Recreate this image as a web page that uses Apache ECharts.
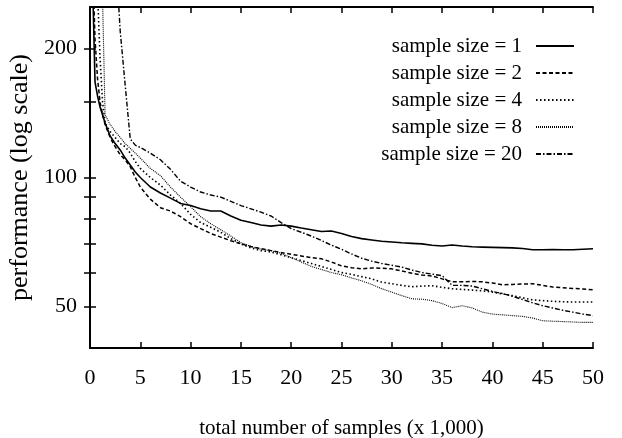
<!DOCTYPE html>
<html>
<head>
<meta charset="utf-8">
<script src="https://cdn.jsdelivr.net/npm/echarts@6/dist/echarts.min.js"></script>
<style>
  html, body { margin: 0; padding: 0; background: #fff; }
  #chart { width: 622px; height: 438px; }
</style>
</head>
<body>
<div id="chart"></div>
<script>
// total number of samples (thousands) at which each run was measured
const samplesK = [0.1, 0.3, 0.5, 0.75, 1, 1.25, 1.5, 2, 2.5, 3, 3.5, 4, 4.5, 5,
  6, 7, 8, 9, 10, 11, 12, 13, 14, 15, 16, 17, 18, 19, 20,
  21, 22, 23, 24, 25, 26, 27, 28, 29, 30, 31, 32, 33, 34, 35,
  36, 37, 38, 39, 40, 41, 42, 43, 44, 45, 46, 47, 48, 49, 50];

// performance per sample size
const size1 = [600, 260, 167, 155, 146, 140, 134, 125, 120, 116, 111, 107, 103, 100,
  95, 92, 89.5, 87, 86, 84.5, 83.5, 83.5, 81.3, 79.5, 78.5, 77.5, 77, 77.5, 77,
  76.2, 75.5, 74.8, 75, 74, 72.8, 72, 71.5, 71, 70.7, 70.4, 70.2, 70, 69.5, 69.2,
  69.6, 69.2, 68.9, 68.8, 68.7, 68.6, 68.5, 68.3, 67.8, 67.8, 67.9, 67.8, 67.8, 68, 68.2];
const size2 = [800, 300, 210, 170, 150, 140, 133, 124, 118, 113, 110, 106, 100, 95,
  89, 85, 83.5, 81, 78, 76, 74, 72.6, 71.2, 70, 69, 68.2, 67.5, 66.8, 66.2,
  65.6, 65, 64.6, 63.5, 62.2, 61.6, 61.2, 61.5, 61.4, 61.2, 60.5, 59.8, 59.2, 58.9, 58,
  57.1, 57.1, 57.2, 57.1, 56.7, 56.2, 56.3, 56.4, 56.5, 56, 55.5, 55.3, 55.1, 54.9, 54.7];
const size4 = [1000, 600, 400, 270, 190, 150, 134, 128, 124, 120, 118, 114, 109, 105,
  100, 96, 91, 87, 82, 78.5, 76.5, 74.5, 72, 70, 68.5, 67.5, 67, 66, 65,
  64, 63, 62, 61, 60, 59.4, 58.7, 58, 57, 56.5, 56, 55.6, 55.8, 55.9, 55.4,
  55, 54.8, 54.6, 54.4, 54, 53.5, 53, 52.4, 51.8, 51.6, 51.4, 51.3, 51.2, 51.2, 51.2];
const size8 = [1200, 900, 600, 400, 300, 260, 140, 133, 128, 124, 120, 117, 114, 111,
  105, 101, 95, 90, 85.5, 81, 78, 75.5, 73, 70.5, 69, 68, 67.5, 66.5, 65,
  63.5, 62, 61, 60, 59.3, 58.3, 57.4, 56.3, 55, 54, 53, 52.1, 52, 51.6, 50.8,
  49.7, 50.2, 49.6, 48.5, 48, 47.8, 47.6, 47.4, 47, 46.3, 46.2, 46.1, 46, 45.9, 45.9];
const size20 = [2000, 1500, 1200, 1000, 800, 650, 550, 450, 350, 220, 164, 123, 119, 117.5,
  114, 110, 104.5, 98, 95, 92.5, 91, 90, 88, 86, 84.5, 83, 81.3, 78.5, 76,
  74.5, 73, 71.3, 69.5, 68, 66.3, 64.8, 63.8, 63, 62.4, 61.8, 60.8, 60, 59.5, 59,
  56, 56, 55.8, 55, 54.2, 53.6, 52.8, 51.9, 51, 50.2, 49.6, 49, 48.5, 48, 47.6];

const xTicks = [0, 50, 5];            // min, max, step
const yLabelValues = [50, 100, 200];
const yTickValues = [50, 60, 70, 80, 90, 100, 150, 200];

const seriesNames = ['sample size = 1', 'sample size = 2', 'sample size = 4',
  'sample size = 8', 'sample size = 20'];
const seriesValues = [size1, size2, size4, size8, size20];
const dashes = ['solid', [4, 2.5], [1.5, 2.5], [1, 1], [5, 2, 1.5, 2]];
const widths = [1.6, 1.5, 1.6, 1.1, 1.4];

const FONT = '"Liberation Serif", "Times New Roman", serif';
const chart = echarts.init(document.getElementById('chart'), null, { renderer: 'canvas' });

const pairs = v => samplesK.map((x, i) => [x, v[i]]);

const tickStyle = { show: true, inside: true, length: 6, lineStyle: { color: '#000', width: 1.5 } };
const axisLineStyle = { show: true, lineStyle: { color: '#000', width: 2 } };

chart.setOption({
  animation: false,
  backgroundColor: '#fff',
  grid: { left: 90, right: 29, top: 7, bottom: 90, containLabel: false, outerBoundsMode: 'none' },
  legend: {
    orient: 'vertical',
    right: 42,
    top: 30,
    align: 'right',
    itemWidth: 38,
    itemHeight: 10,
    itemGap: 5,
    itemStyle: { opacity: 0 },
    textStyle: { fontFamily: FONT, fontSize: 21, color: '#000', lineHeight: 22, padding: [0, 9, 0, 0] },
    data: seriesNames
  },
  xAxis: [{
    type: 'value', min: xTicks[0], max: xTicks[1], interval: xTicks[2],
    name: 'total number of samples (x 1,000)', nameLocation: 'middle', nameGap: 70,
    nameTextStyle: { fontFamily: FONT, fontSize: 21, color: '#000' },
    axisLine: axisLineStyle, axisTick: tickStyle,
    axisLabel: { margin: 19, fontFamily: FONT, fontSize: 22, color: '#000' },
    splitLine: { show: false }
  }, {
    type: 'value', position: 'top', min: xTicks[0], max: xTicks[1], interval: xTicks[2],
    axisLine: axisLineStyle, axisTick: tickStyle, axisLabel: { show: false }, splitLine: { show: false }
  }],
  yAxis: [{
    type: 'log', logBase: 10, min: 40, max: 250,
    name: 'performance (log scale)', nameLocation: 'middle', nameGap: 52,
    nameTextStyle: { fontFamily: FONT, fontSize: 26, color: '#000' },
    axisLine: axisLineStyle,
    axisTick: Object.assign({}, tickStyle, { customValues: yTickValues }),
    axisLabel: { margin: 13, fontFamily: FONT, fontSize: 22, color: '#000', customValues: yLabelValues },
    splitLine: { show: false }, minorTick: { show: false }
  }, {
    type: 'log', logBase: 10, min: 40, max: 250, position: 'right',
    axisLine: axisLineStyle,
    axisTick: Object.assign({}, tickStyle, { customValues: yTickValues }),
    axisLabel: { show: false }, splitLine: { show: false }
  }],
  series: seriesNames.map((name, i) => ({
    name, type: 'line', xAxisIndex: 0, yAxisIndex: 0,
    data: pairs(seriesValues[i]),
    symbol: 'none', clip: true, smooth: false,
    lineStyle: { color: '#000', width: widths[i], type: dashes[i] },
    itemStyle: { color: '#000' }
  }))
});
</script>
</body>
</html>
